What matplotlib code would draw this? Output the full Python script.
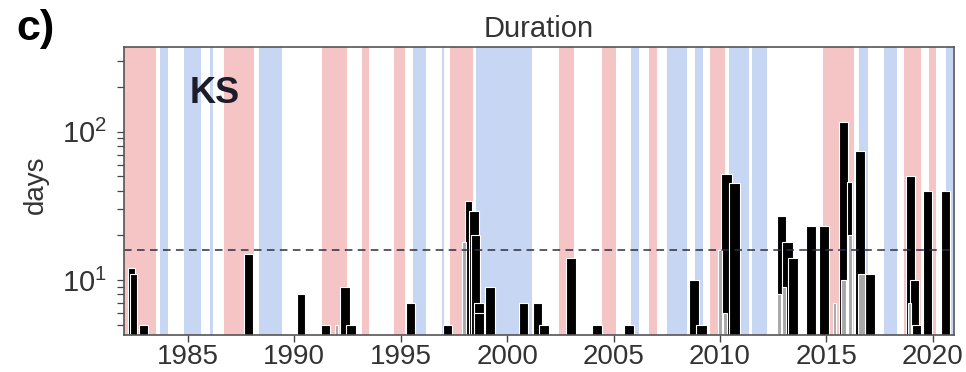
import matplotlib

matplotlib.use("Agg")
import matplotlib.pyplot as plt
from matplotlib.ticker import LogLocator

plt.rcParams["font.family"] = ["Liberation Sans", "DejaVu Sans"]
plt.rcParams["mathtext.default"] = "regular"

# warm (pink) and cold (blue) background periods, in decimal years
pink_start = [1982.0, 1986.69, 1991.31, 1993.16, 1994.68, 1997.34, 2002.44, 2004.48,
              2006.67, 2009.53, 2014.83, 2018.67, 2019.82]
pink_end = [1983.50, 1988.12, 1992.46, 1993.52, 1995.19, 1998.40, 2003.13, 2005.13,
            2007.06, 2010.25, 2016.32, 2019.45, 2020.15]
blue_start = [1983.70, 1984.80, 1986.02, 1988.35, 1995.58, 1996.92, 1998.53, 2005.84,
              2007.49, 2008.84, 2010.42, 2011.51, 2016.53, 2017.73, 2020.61]
blue_end = [1984.06, 1985.62, 1986.17, 1989.40, 1996.21, 1997.03, 2001.15, 2006.20,
            2008.43, 2009.20, 2011.38, 2012.23, 2016.97, 2018.32, 2020.95]

# events: start / end year and duration in days
event_start = [1982.19, 1982.26, 1982.70, 1987.64, 1990.11, 1991.25, 1992.17, 1992.45,
               1995.24, 1996.99, 1998.01, 1998.20, 1998.28, 1998.43, 1998.43, 1998.98,
               2000.55, 2001.21, 2001.49, 2002.76, 2004.01, 2005.47, 2008.57, 2008.88,
               2010.05, 2010.45, 2012.66, 2012.92, 2013.22, 2014.03, 2014.66, 2015.60,
               2015.97, 2016.34, 2016.81, 2018.76, 2018.92, 2019.03, 2019.54, 2020.38]
event_end = [1982.52, 1982.60, 1983.12, 1988.07, 1990.50, 1991.67, 1992.61, 1992.89,
             1995.66, 1997.43, 1998.36, 1998.67, 1998.74, 1998.90, 1998.90, 1999.45,
             2000.99, 2001.65, 2001.96, 2003.23, 2004.48, 2005.97, 2009.03, 2009.38,
             2010.57, 2010.95, 2013.09, 2013.42, 2013.69, 2014.50, 2015.13, 2016.02,
             2016.22, 2016.81, 2017.28, 2019.15, 2019.36, 2019.44, 2019.96, 2020.80]
event_days = [12, 11, 5, 15, 8, 5, 9, 5,
              7, 5, 34, 29, 20, 7, 6, 9,
              7, 7, 5, 14, 5, 5, 10, 5,
              52, 45, 27, 18, 14, 23, 23, 117,
              46, 74, 11, 50, 10, 5, 40, 40]

# shorter sub-events drawn in grey in front
sub_start = [1991.91, 1997.90, 2009.90, 2010.13, 2012.66, 2012.90, 2015.29, 2015.70,
             2016.00, 2016.49, 2018.84]
sub_end = [1992.05, 1998.07, 2010.12, 2010.35, 2012.88, 2013.12, 2015.47, 2015.92,
           2016.20, 2016.80, 2018.97]
sub_days = [5, 18, 16, 6, 8, 9, 7, 10, 20, 11, 7]

threshold_days = 16
year_ticks = [1985, 1990, 1995, 2000, 2005, 2010, 2015, 2020]

PINK = "#f5c5c5"
BLUE = "#c7d6f3"


def draw_bars(ax, starts, ends, days, color):
    widths = [e - s for s, e in zip(starts, ends)]
    heights = [d - 1 for d in days]
    ax.bar(starts, heights, width=widths, bottom=1, align="edge",
           color=color, edgecolor="white", linewidth=0.8, zorder=3)


def main() -> None:
    fig = plt.figure(figsize=(9.66, 3.72), dpi=100)
    ax = fig.add_axes([0.1284, 0.1003, 0.8592, 0.7742])

    for s, e in zip(pink_start, pink_end):
        ax.axvspan(s, e, color=PINK, lw=0, zorder=1)
    for s, e in zip(blue_start, blue_end):
        ax.axvspan(s, e, color=BLUE, lw=0, zorder=1)

    draw_bars(ax, event_start, event_end, event_days, "black")
    draw_bars(ax, sub_start, sub_end, sub_days, "#a8a8a8")

    ax.axhline(threshold_days, color="#2d2d40", lw=1.1, ls=(0, (5, 3.5)), zorder=4)

    ax.set_yscale("log")
    ax.set_ylim(4.28, 374)
    ax.set_xlim(1982, 2021)
    ax.set_xticks(year_ticks)
    ax.yaxis.set_major_locator(LogLocator(base=10))
    ax.yaxis.set_minor_locator(LogLocator(base=10, subs=range(2, 10)))
    ax.yaxis.set_minor_formatter(plt.NullFormatter())

    ax.tick_params(axis="x", labelsize=20, length=5, width=1, pad=2,
                   color="#444444", labelcolor="#333333")
    ax.tick_params(axis="y", which="both", labelsize=21, length=5, width=0.9, pad=7,
                   color="#444444", labelcolor="#333333")
    for spine in ax.spines.values():
        spine.set_color("#555555")
        spine.set_linewidth(1.2)
        spine.set_zorder(5)

    ax.set_ylabel("days", fontsize=20, color="#333333")
    ax.yaxis.set_label_coords(-0.091, 0.52)
    ax.set_title("Duration", fontsize=21, color="#333333", pad=7)
    ax.text(0.079, 0.805, "KS", transform=ax.transAxes, fontsize=26,
            fontweight="bold", color="#1c1c2a", va="baseline", zorder=6)
    fig.text(0.017, 0.975, "c)", fontsize=31, fontweight="bold", va="top")

    fig.savefig("out.png", dpi=100)
    plt.close(fig)


if __name__ == "__main__":
    main()
